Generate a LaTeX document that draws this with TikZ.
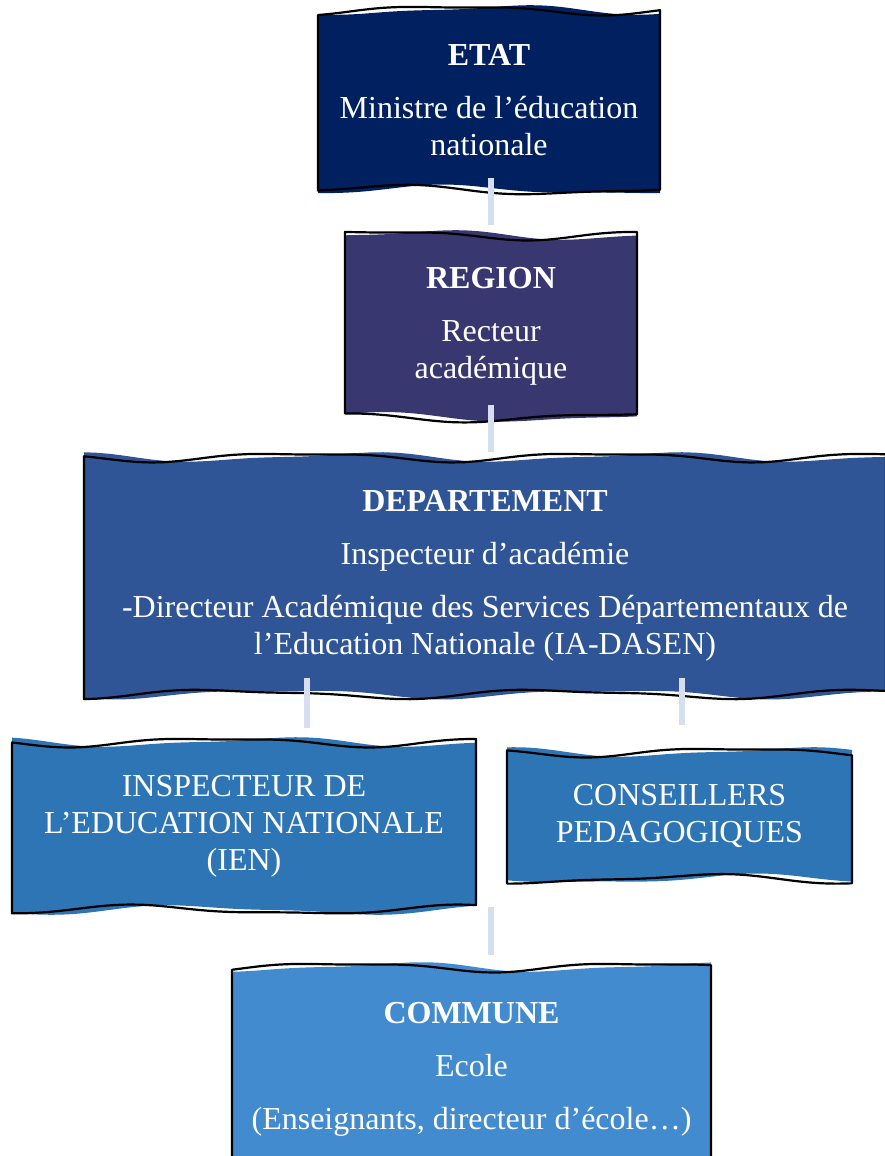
\documentclass[tikz,border=0pt]{standalone}
\usepackage{fontspec}
\setmainfont{Liberation Serif}

\definecolor{azulEtat}{RGB}{0,32,96}
\definecolor{azulRegion}{RGB}{57,55,112}
\definecolor{azulDept}{RGB}{47,85,151}
\definecolor{azulIen}{RGB}{46,117,182}
\definecolor{azulCommune}{RGB}{66,139,206}
\definecolor{enlaceClaro}{RGB}{214,222,240}

\tikzset{
  borde/.style={black, line width=1.1pt, line join=round},
  enlace/.style={draw=enlaceClaro, line width=3pt},
  texto/.style={text=white, align=center, inner sep=0pt,
    font=\fontsize{16}{18.5}\selectfont},
}

% Caja con bordes ondulados: nombre, x1, y1, x2, y2, color, fase, texto
\newcommand{\caja}[8]{%
  \fill[#6] plot[domain=#2:#4, samples=60, variable=\t]
      (\t, {#3+4*sin(1.2*\t+#7)+1.5*sin(2.4*\t+2*#7)})
    -- plot[domain=#4:#2, samples=60, variable=\t]
      (\t, {#5+4*sin(1.1*\t+#7+120)+1.5*sin(2.2*\t+#7)}) -- cycle;
  \draw[borde] plot[domain=#2:#4, samples=60, variable=\t]
      (\t, {#3+4*sin(1.2*\t+#7+70)+1.5*sin(2.4*\t+2*#7+40)})
    -- plot[domain=#4:#2, samples=60, variable=\t]
      (\t, {#5+4*sin(1.1*\t+#7+180)+1.5*sin(2.2*\t+#7+50)}) -- cycle;
  \node[texto, minimum width={(#4-#2)*0.5pt}, minimum height={(#5-#3)*0.5pt}]
    (#1) at ({(#2+#4)/2}, {(#3+#5)/2}) {#8};
}

\begin{document}
\begin{tikzpicture}[x=0.5pt, y=-0.5pt]
  \useasboundingbox (0,0) rectangle (884,1156);

  % Cajas
  \caja{etat}{318}{10}{660}{190}{azulEtat}{20}
    {{\bfseries ETAT}\\[8pt]Ministre de l’éducation\\nationale}
  \caja{region}{345}{235}{637}{417}{azulRegion}{110}
    {{\bfseries REGION}\\[8pt]Recteur\\académique}
  \caja{dept}{84}{457}{886}{694}{azulDept}{200}
    {{\bfseries DEPARTEMENT}\\[8pt]Inspecteur d’académie\\[8pt]-Directeur Académique des Services Départementaux de\\l’Education Nationale (IA-DASEN)}
  \caja{ien}{12}{742}{476}{910}{azulIen}{300}
    {INSPECTEUR DE\\L’EDUCATION NATIONALE\\(IEN)}
  \caja{cons}{507}{752}{852}{879}{azulIen}{40}
    {CONSEILLERS\\PEDAGOGIQUES}
  \caja{commune}{232}{967}{711}{1172}{azulCommune}{150}
    {{\bfseries COMMUNE}\\[8pt]Ecole\\[8pt](Enseignants, directeur d’école…)}

  % Enlaces
  \draw[enlace, shorten <=-6pt, shorten >=5pt] (491,0 |- etat.south) -- (491,0 |- region.north);
  \draw[enlace, shorten <=-6pt, shorten >=2.5pt] (491,0 |- region.south) -- (491,0 |- dept.north);
  \draw[enlace, shorten <=-8pt, shorten >=7pt] (307,0 |- dept.south) -- (307,0 |- ien.north);
  \draw[enlace, shorten <=-8pt, shorten >=13.5pt] (682,0 |- dept.south) -- (682,0 |- cons.north);
  \draw[enlace, shorten <=-1.5pt, shorten >=6pt] (491,0 |- ien.south) -- (491,0 |- commune.north);
\end{tikzpicture}
\end{document}
